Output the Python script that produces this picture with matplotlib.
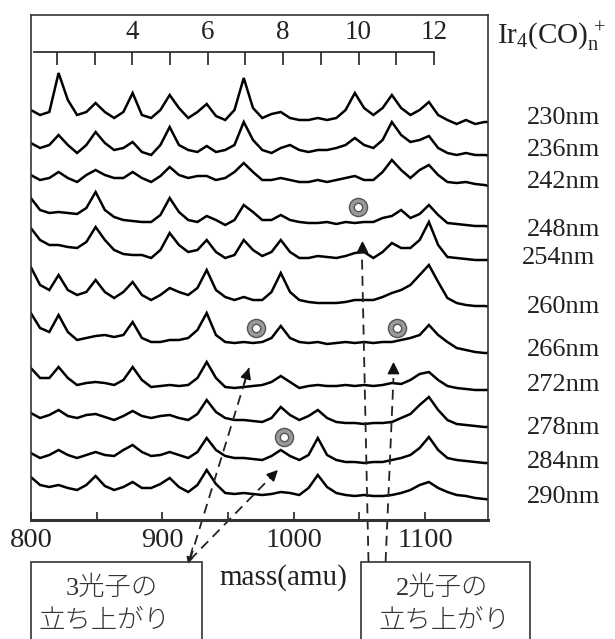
import numpy as np
import matplotlib.pyplot as plt
from matplotlib.patches import Rectangle

plt.rcParams['font.family'] = ['Liberation Serif', 'Noto Sans CJK JP']
plt.rcParams['mathtext.fontset'] = 'custom'
plt.rcParams['mathtext.rm'] = 'Liberation Serif'
plt.rcParams['mathtext.it'] = 'Liberation Serif:italic'

# sampling grid (amu): quarter steps between neighbouring Ir4(CO)n peaks
mass = 821.0 + 7.05 * np.arange(-3, 48)

wavelengths = ['230nm', '236nm', '242nm', '248nm', '254nm', '260nm',
               '266nm', '272nm', '278nm', '284nm', '290nm']
offsets = [407, 373, 340, 307, 273, 227, 187, 140, 103, 63, 33]
label_levels = [402, 370, 338, 290, 262, 213, 170, 135, 92, 58, 23]

# signal (same units as the offsets)
s230 = [3, -2, 1, 40, 13, -2, 1, 10, 1, -5, 1, 20, -2, -5, 3, 18, 5, -5, 1, 9, -3, -7, 3, 35, 5,
        -5, -1, 1, -5, -7, -7, -5, -7, -5, 3, 20, 5, -2, 5, 18, 5, -2, 3, 11, -2, -7, -11, -7, -11, -9, -9]
s236 = [4, -1, 2, 12, 2, -6, 2, 15, 4, -3, -1, 5, -5, -8, 2, 20, 2, -3, -5, 1, -5, -3, 2, 25, 7,
        -3, -6, -1, 2, -3, -5, -3, -3, -1, 2, 9, 2, -1, 7, 25, 12, 5, 7, 11, -1, -6, -8, -6, -8, -8, -9]
s242 = [5, 0, 2, 8, 2, -2, 5, 10, 5, 2, 2, 8, 2, -2, 4, 13, 5, 2, 4, 4, 0, 2, 8, 17, 8,
        0, 0, 2, 0, -2, -2, 0, -2, 0, 2, 4, 0, 0, 8, 20, 10, 2, 10, 15, 5, -2, -3, -2, -4, -5, -7]
s248 = [15, 3, 0, 1, 0, -1, 5, 21, 3, -4, -7, -8, -9, -9, -2, 15, 1, -7, -9, -3, -7, -12, -7, 8, 1,
        -7, -7, -2, -7, -9, -10, -10, -9, -11, -9, -10, -9, -9, -5, -3, 3, -5, -1, 8, -2, -10, -11, -12, -13, -13, -14]
s254 = [19, 7, 2, 2, 0, -1, 5, 20, 7, -3, -7, -8, -8, -11, -3, 14, 2, -5, -3, 7, -5, -11, -8, 7, -3,
        -9, -5, 7, -5, -11, -11, -9, -10, -11, -9, -6, -5, -11, -5, 4, -1, -1, 7, 25, 2, -10, -11, -12, -13, -13, -13]
s260 = [26, 8, 3, 18, 3, -2, 1, 13, 1, -5, 1, 11, -2, -7, -2, 5, 1, -2, 5, 23, 3, -4, -7, -4, -7,
        -7, 1, 20, 1, -7, -9, -10, -10, -10, -9, -7, -7, -7, -4, 0, 3, 8, 18, 28, 11, -5, -10, -12, -13, -13, -14]
s266 = [20, 5, 1, 18, 1, -7, -5, -3, -2, -4, -2, 11, -5, -9, -9, -7, -7, -5, 3, 20, -2, -9, -10, -9, -10,
        -9, -5, 7, -5, -9, -10, -9, -11, -10, -9, -10, -9, -10, -9, -9, -7, -5, -2, 8, -2, -9, -15, -17, -19, -20, -20]
s272 = [12, 2, 2, 13, 2, -5, -3, -2, -3, -5, 0, 13, 0, -7, -6, -5, -6, -5, 2, 18, 2, -7, -8, -7, -6,
        -5, -2, 4, -2, -8, -6, -5, -6, -6, -5, -6, -5, -6, -5, -3, -4, 0, 6, 8, 0, -6, -8, -9, -10, -10, -10]
s278 = [4, -1, 2, 7, 1, -1, 2, 3, 0, -3, 1, 6, 1, -1, 1, 2, -1, -3, 3, 17, 5, -1, -3, -3, -4,
        -5, -1, 10, 2, -3, 1, 7, -1, -5, -6, -6, -7, -6, -6, -5, -1, 3, 12, 20, 7, -3, -7, -8, -9, -10, -10]
s284 = [4, -1, 2, 7, 2, -1, 2, 5, 2, 1, 7, 12, 5, 1, 2, 5, 2, -1, 5, 19, 7, 1, -1, -1, -2,
        -3, 1, 7, 1, -3, 2, 19, 2, -3, -5, -5, -6, -5, -5, -3, -1, 2, 9, 20, 7, -1, -3, -4, -5, -6, -6]
s290 = [10, 2, 0, 2, -1, -3, 2, 11, 1, -3, 0, 5, -1, -1, 3, 9, 0, -5, 2, 17, 3, -6, -7, -6, -7,
        -8, -7, -5, -6, -8, -1, 12, 0, -6, -8, -9, -8, -9, -9, -8, -6, -3, 2, 5, -1, -5, -8, -9, -11, -12, -13]
signals = [s230, s236, s242, s248, s254, s260, s266, s272, s278, s284, s290]

# top scale: Ir4(CO)n peak positions
co_zero = 762.4
co_step = 28.7

# markers (mass, level)
circle_mass = [1049, 971, 1079, 993]
circle_level = [313, 192, 192, 83]
triangle_mass = [1052, 1076]
triangle_level = [273, 152]
three_photon_tips = [(966, 152), (988, 50)]
three_photon_root = (921, -40)
two_photon_lines = [((1052, 265), (1057, -42)), ((1076, 142), (1070, -42))]

fig = plt.figure(figsize=(6.15, 6.39), dpi=100)
W, H = 615.0, 639.0
ax = fig.add_axes([31 / W, 1 - 520 / H, 457 / W, 505 / H])
ax.set_xlim(800, 1148)
ax.set_ylim(0, 505)

for off, sig in zip(offsets, signals):
    ax.plot(mass, off + np.array(sig), color='black', lw=1.8, solid_joinstyle='miter')

for name, lev in zip(wavelengths, label_levels):
    xpos = 1.074 if name == '254nm' else 1.085
    ax.text(xpos, lev, name, transform=ax.get_yaxis_transform(), fontsize=19,
            ha='left', va='center', color='#222222', clip_on=False)
ax.text(1.02, 483, r'Ir$_4$(CO)$_{\mathrm{n}}^{\,+}$', transform=ax.get_yaxis_transform(),
        fontsize=21, ha='left', va='center', color='#222222', clip_on=False)

for sp in ax.spines.values():
    sp.set_linewidth(1.2)
    sp.set_color('#333333')
ax.spines['bottom'].set_linewidth(2.2)
ax.set_yticks([])
ax.set_xticks([800, 900, 1000, 1100])
ax.set_xticks([850, 950, 1050], minor=True)
ax.tick_params(axis='x', which='both', direction='in', length=5.5, width=1.2,
               labelsize=20.5, pad=6, colors='#222222')

sec = ax.secondary_xaxis(468 / 505, functions=(lambda m: (m - co_zero) / co_step,
                                                lambda n: co_zero + co_step * n))
sec.set_xticks([4, 6, 8, 10, 12])
sec.set_xticks([2, 3, 5, 7, 9, 11], minor=True)
sec.tick_params(which='both', direction='in', length=9.5, width=1.2, labelsize=19.5,
                pad=5, colors='#222222')
sec.spines['top'].set_linewidth(1.3)
sec.spines['top'].set_color('#333333')
sec.spines['top'].set_bounds(1.4, 12)

ax.scatter(circle_mass, circle_level, s=170, marker='o', facecolor='#9a9a9a',
           edgecolor='#555555', lw=1.0, zorder=5)
ax.scatter(circle_mass, circle_level, s=36, marker='o', facecolor='white',
           edgecolor='#555555', lw=1.0, zorder=6)
ax.scatter(triangle_mass, triangle_level, s=55, marker='^', color='#111111', zorder=5)

dash = (0, (5.5, 3.5))
for tip in three_photon_tips:
    ax.plot([three_photon_root[0], tip[0]], [three_photon_root[1], tip[1]], color='#222222',
            lw=1.3, ls=dash, clip_on=False)
    back = (tip[0] - 0.08 * (tip[0] - three_photon_root[0]), tip[1] - 0.08 * (tip[1] - three_photon_root[1]))
    ax.annotate('', xy=tip, xytext=back, annotation_clip=False,
                arrowprops=dict(arrowstyle='-|>', color='#111111', lw=1.2, mutation_scale=16,
                                shrinkA=0, shrinkB=0))
ax.annotate('', xy=(three_photon_root[0] - 1.5, three_photon_root[1] - 4),
            xytext=(three_photon_root[0] + 2, three_photon_root[1] + 12), annotation_clip=False,
            arrowprops=dict(arrowstyle='-|>', color='#222222', lw=1.0, mutation_scale=10,
                            shrinkA=0, shrinkB=0))
for top, bottom in two_photon_lines:
    ax.plot([bottom[0], top[0]], [bottom[1], top[1]], color='#222222', lw=1.3, ls=dash,
            clip_on=False)

# axis title and the two boxes under the axis
fig.text(283 / W, 1 - 578 / H, 'mass(amu)', fontsize=21, ha='center', va='center', color='#222222')
for x0, x1 in [(31, 202), (361, 530)]:
    fig.patches.append(Rectangle((x0 / W, -0.05), (x1 - x0) / W, 0.05 + (639 - 562) / H,
                                 transform=fig.transFigure, fill=False, lw=1.2,
                                 edgecolor='#333333'))
fig.text(112 / W, 1 - 588 / H, '3光子の', fontsize=19, ha='center', va='center',
         color='#333333', fontweight='light')
fig.text(104 / W, 1 - 621 / H, '立ち上がり', fontsize=19, ha='center', va='center',
         color='#333333', fontweight='light')
fig.text(442 / W, 1 - 588 / H, '2光子の', fontsize=19, ha='center', va='center',
         color='#333333', fontweight='light')
fig.text(444 / W, 1 - 621 / H, '立ち上がり', fontsize=19, ha='center', va='center',
         color='#333333', fontweight='light')

fig.savefig('out.png', dpi=100)
